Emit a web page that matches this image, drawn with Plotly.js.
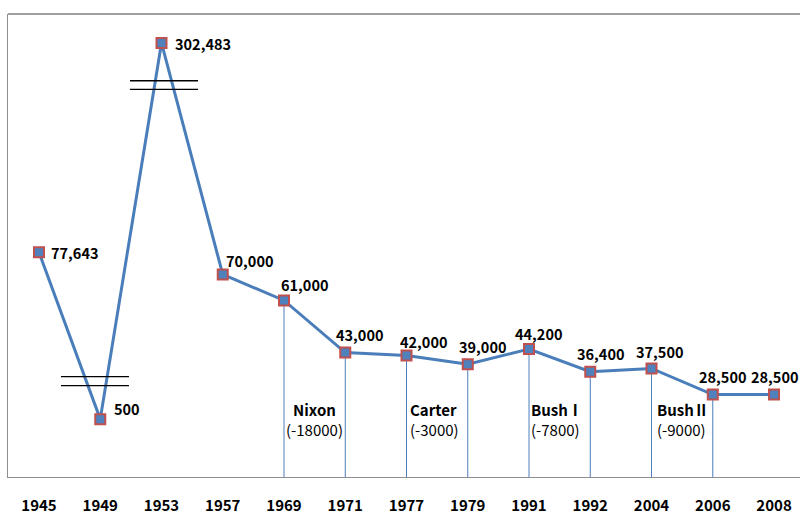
<!DOCTYPE html>
<html><head><meta charset="utf-8">
<script src="https://cdn.plot.ly/plotly-3.0.1.min.js"></script>
<style>html,body{margin:0;padding:0;background:#fff}#chart{width:800px;height:516px}</style>
</head><body><div id="chart"></div>
<script>
// ---- data ----
const years = ['1945','1949','1953','1957','1969','1971','1977','1979','1991','1992','2004','2006','2008'];
const values = [77643, 500, 302483, 70000, 61000, 43000, 42000, 39000, 44200, 36400, 37500, 28500, 28500];
// broken axis: the value at which these points are drawn on the compressed scale
const brokenAt = {'1949': 20000, '1953': 150000};
const dropLineYears = ['1969','1971','1977','1979','1991','1992','2004','2006'];
const presidents = ['Nixon', 'Carter', 'BushⅠ', 'BushⅡ'];
const presidentFrom = ['1969', '1977', '1991', '2004'];
const presidentChange = [-18000, -3000, -7800, -9000];

// ---- styling / placement (not data) ----
const FONT = '"Noto Sans CJK KR", "Noto Sans", sans-serif';
const labelShift = [[36,0],[27,11],[41,-1],[27,14],[21,16],[14.5,17.6],[17,14],[15,17.7],[9.5,16],[10.3,17.7],[8.7,16.7],[10,17.7],[1,17.7]];
const presShift = [0, 1, 0, 3];

const plotted = years.map((y, i) => (y in brokenAt ? brokenAt[y] : values[i]));
const fmt = v => v.toLocaleString('en-US');

const shapes = [];
// drop lines
dropLineYears.forEach(y => {
  const i = years.indexOf(y);
  shapes.push({type:'line', xref:'x', yref:'y', x0:i, x1:i, y0:0, y1:plotted[i],
    line:{color:'#4a7ebb', width:1}, layer:'below'});
});
// axis-break marks
const breakMarks = [
  {x0:1.486, x1:2.596, ya:136940, yb:133970},
  {x0:0.359, x1:1.469, ya:34660, yb:31550}
];
breakMarks.forEach(b => {
  [b.ya, b.yb].forEach(yv => shapes.push({type:'line', xref:'x', yref:'y', x0:b.x0, x1:b.x1, y0:yv, y1:yv,
    line:{color:'#000', width:1.3}}));
});
// top frame line
shapes.push({type:'line', xref:'paper', yref:'paper', x0:0, x1:1, y0:1, y1:1, line:{color:'#a0a0a0', width:2}});

const annotations = years.map((yr, i) => ({
  x: i, y: plotted[i], xref:'x', yref:'y', text: '<b>' + fmt(values[i]) + '</b>', showarrow:false,
  xanchor:'center', yanchor:'middle', xshift: labelShift[i][0], yshift: labelShift[i][1],
  font:{family:FONT, size:14.5, color:'#000'}
}));
presidents.forEach((p, k) => {
  const i = years.indexOf(presidentFrom[k]);
  const centered = k === 0;
  annotations.push({
    x: centered ? i + 0.5 : i, y: 19700, xref:'x', yref:'y',
    text: '<b>' + p + '</b><br>(' + presidentChange[k] + ')',
    showarrow:false, xanchor: centered ? 'center' : 'left', yanchor:'middle',
    align: centered ? 'center' : 'left', xshift: presShift[k],
    font:{family:FONT, size:15, color:'#000'}
  });
});

const trace = {
  x: years, y: plotted, type:'scatter', mode:'lines+markers',
  line:{color:'#4a7ebb', width:3},
  marker:{symbol:'square', size:10, color:'#4f81bd', line:{color:'#c0504d', width:2}},
  hoverinfo:'skip', cliponaxis:false
};

const layout = {
  width:800, height:516,
  margin:{l:8, r:0, t:14, b:39},
  paper_bgcolor:'#fff', plot_bgcolor:'#fff',
  showlegend:false,
  xaxis:{type:'category', range:[-0.506, 12.424], showline:true, linecolor:'#8e8e8e', linewidth:1,
    showgrid:false, zeroline:false, ticks:'', ticklabelstandoff:15,
    tickfont:{family:FONT, size:15, color:'#000', weight:'bold'}},
  yaxis:{range:[0,160000], showline:true, linecolor:'#8e8e8e', linewidth:1, showgrid:false,
    zeroline:false, showticklabels:false, ticks:''},
  shapes: shapes, annotations: annotations
};

Plotly.newPlot('chart', [trace], layout, {displayModeBar:false, staticPlot:true});
</script></body></html>
